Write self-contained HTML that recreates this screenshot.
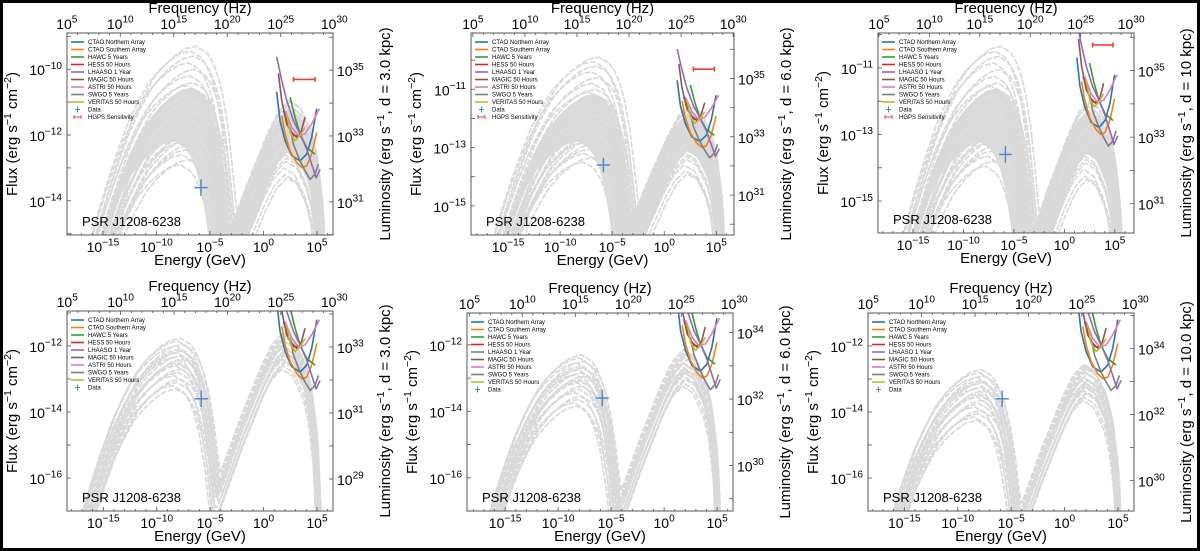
<!DOCTYPE html>
<html><head><meta charset="utf-8"><style>
html,body{margin:0;padding:0;background:#fff;overflow:hidden;width:1200px;height:551px;}
#fig{position:relative;width:1200px;height:551px;background:#fff;overflow:hidden;}
svg{position:absolute;left:0;top:0;display:block;}
text{font-family:"Liberation Sans","DejaVu Sans",sans-serif;fill:#000;}
</style></head><body>
<div id="fig">
<svg id="svg" width="1200" height="551" viewBox="0 0 1200 551" xmlns="http://www.w3.org/2000/svg">
<rect x="1.5" y="1.5" width="1197" height="548" fill="none" stroke="#000" stroke-width="3"/>
</svg>
</div>
<script>
// ---- data ----
const instNames = ["CTAO Northern Array","CTAO Southern Array","HAWC 5 Years","HESS 50 Hours","LHAASO 1 Year","MAGIC 50 Hours","ASTRI 50 Hours","SWGO 5 Years","VERITAS 50 Hours"];
const instColors = ["#1f77b4","#ff7f0e","#2ca02c","#d62728","#9467bd","#8c564b","#e377c2","#7f7f7f","#bcbd22"];
const ctaoNE = [1.24,1.55,2.02,2.64,3.42,4.04,4.51,4.98];
const ctaoNF = [-10.69,-11.56,-12.17,-12.63,-12.79,-12.58,-12.07,-11.2];
const ctaoSE = [1.71,2.02,2.49,3.11,3.58,4.04,4.51,4.98];
const ctaoSF = [-11.41,-11.97,-12.48,-12.84,-12.99,-12.94,-12.58,-11.92];
const hawcE = [2.49,2.95,3.42,4.04,4.82];
const hawcF = [-10.85,-11.46,-11.97,-12.38,-12.58];
const hessE = [1.86,2.49,3.11,3.58];
const hessF = [-11.26,-11.87,-12.07,-11.92];
const lhaasoE = [1.24,1.71,2.17,2.80,3.42,4.04,4.51,4.92,5.29];
const lhaasoF = [-9.62,-10.34,-10.95,-11.56,-11.97,-12.43,-12.89,-13.30,-13.04];
const magicE = [1.40,1.71,2.17,2.80,3.42,3.89];
const magicF = [-10.13,-10.95,-11.66,-12.02,-12.02,-11.46];
const astriE = [2.02,2.64,3.26,3.89,4.51,5.23];
const astriF = [-11.26,-11.77,-12.02,-11.97,-11.66,-11.20];
const swgoE = [2.49,2.80,3.42,3.89,4.36,4.82,5.13];
const swgoF = [-11.77,-12.28,-12.79,-13.09,-13.35,-13.19,-12.89];
const veritasE = [2.17,2.49,2.95,3.42,3.89];
const veritasF = [-11.36,-11.92,-12.17,-12.02,-11.77];
const dataE = -5.84, dataEerr = 0.63, dataF = -13.6, dataFerr = 0.25;
const hgpsE = [2.80,4.82], hgpsF = -10.31;
// model shape tables (relative log flux vs decades from peak)
const syncD = [-11,-10,-9,-8,-7,-6,-5,-4,-3,-2,-1,0,1,1.5,2,2.5,3,3.5,4,5];
const syncR = [-7.6,-6.5,-5.3,-4.2,-3.2,-2.3,-1.6,-1.0,-0.6,-0.3,-0.08,0,-0.2,-0.45,-0.85,-1.5,-2.5,-4.0,-6.0,-10];
const icD = [-12,-9,-8,-7,-6,-5,-4,-3,-2,-1,0,1,2,2.5,3,3.4,4];
const icR = [-9.5,-7,-6.2,-5.3,-4.4,-3.5,-2.6,-1.8,-1.0,-0.35,0,-0.2,-0.9,-1.6,-3.0,-6,-12];
const topSyncF = [-9.3,-9.45,-9.6,-9.8,-10.0,-10.2,-10.4,-10.5,-10.6,-10.65,-10.7,-10.8,-10.85,-10.95,-11.05,-11.1,-11.2,-11.3,-11.4,-11.5,-11.6,-11.7,-11.8,-11.9,-12.0,-12.1,-12.2,-12.3,-12.45,-12.6,-12.75,-12.9];
const topSyncE = [-6.3,-6.8,-6.5,-7.0,-6.4,-6.9,-6.6,-7.2,-6.5,-6.8,-7.0,-6.3,-6.7,-7.1,-6.6,-6.9,-6.4,-7.3,-6.8,-6.5,-7.0,-6.7,-7.4,-6.6,-7.1,-6.8,-7.5,-6.9,-7.2,-7.6,-7.0,-7.8];
const topIcF = [-11.3,-11.0,-11.5,-10.95,-11.2,-11.6,-11.1,-11.4,-11.8,-11.25,-11.5,-12.0,-11.35,-11.7,-12.2,-11.45,-11.9,-12.4,-11.6,-12.1,-12.6,-11.8,-12.3,-12.8,-12.0,-12.5,-13.0,-12.2,-12.7,-13.2,-12.4,-13.3];
const topIcE = [2.3,2.5,2.1,2.4,2.6,2.2,2.3,2.0,2.5,2.4,2.1,2.3,2.6,2.2,2.0,2.4,2.5,2.1,2.3,2.2,2.0,2.4,2.6,2.1,2.3,2.2,1.9,2.5,2.1,2.0,2.4,2.2];
const bandTop = [-10.55,-6.7,-11.2,2.3];
const bandBot = [-12.2,-8.3,-12.5,2.1];
const botSyncF = [-11.76,-11.85,-11.95,-12.0,-12.1,-12.15,-12.2,-12.3,-12.35,-12.4,-12.5,-12.55,-12.6,-12.7,-12.8,-12.9,-13.0,-13.1,-13.2,-13.3];
const botSyncE = [-7.8,-8.0,-7.6,-8.2,-7.9,-7.7,-8.1,-7.8,-8.3,-7.6,-8.0,-7.9,-8.2,-7.7,-8.0,-8.4,-7.8,-8.1,-8.5,-8.2];
const botIcF = [-11.6,-11.7,-11.8,-11.65,-11.9,-12.0,-11.75,-12.1,-11.85,-12.2,-12.0,-12.3,-12.1,-12.4,-12.2,-12.5,-12.3,-12.6,-12.45,-12.7];
const botIcE = [1.8,2.0,1.7,1.9,2.1,1.8,2.0,1.6,1.9,2.0,1.7,1.9,2.1,1.8,1.7,2.0,1.9,1.8,2.0,1.7];
const energyTicks = [-15,-10,-5,0,5];
const freqTicks = [5,10,15,20,25,30];
const logNuPerGeV = 23.38;

const panels = [
 {id:"tl",x0:67,x1:333,y0:33,y1:235,e0:-18.36,e1:6.5,f0:-15.04,f1:-8.9,lo:45.03,fl:[-14,-12,-10],ll:[31,33,35],d:"3.0 kpc",shift:0,row:"top",hgps:true},
 {id:"tm",x0:471,x1:734,y0:33,y1:235,e0:-18.56,e1:6.7,f0:-16,f1:-9.07,lo:45.63,fl:[-15,-13,-11],ll:[31,33,35],d:"6.0 kpc",shift:-0.6,row:"top",hgps:true},
 {id:"tr",x0:878,x1:1134,y0:33,y1:233,e0:-18.47,e1:6.9,f0:-15.96,f1:-9.95,lo:46.08,fl:[-15,-13,-11],ll:[31,33,35],d:"10 kpc",shift:-1.05,row:"top",hgps:true},
 {id:"bl",x0:67,x1:333,y0:311,y1:511,e0:-18.4,e1:6.5,f0:-17,f1:-10.94,lo:45.03,fl:[-16,-14,-12],ll:[29,31,33],d:"3.0 kpc",shift:0,row:"bot",hgps:false},
 {id:"bm",x0:467,x1:733,y0:313,y1:511,e0:-18.6,e1:6.5,f0:-17,f1:-11.04,lo:45.63,fl:[-16,-14,-12],ll:[30,32,34],d:"6.0 kpc",shift:-0.54,row:"bot",hgps:false},
 {id:"br",x0:868,x1:1134,y0:313,y1:511,e0:-18.4,e1:6.5,f0:-17,f1:-11,lo:46.08,fl:[-16,-14,-12],ll:[30,32,34],d:"10.0 kpc",shift:-0.95,row:"bot",hgps:false}
];

const NS="http://www.w3.org/2000/svg";
const svg=document.getElementById("svg");
function mk(tag,attrs,parent){const e=document.createElementNS(NS,tag);for(const k in attrs)e.setAttribute(k,attrs[k]);(parent||svg).appendChild(e);return e;}
function interp(xs,ys,x){if(x<=xs[0])return ys[0]+(x-xs[0])*2;if(x>=xs[xs.length-1])return ys[ys.length-1]-(x-xs[xs.length-1])*6;for(let i=1;i<xs.length;i++){if(x<=xs[i]){const t=(x-xs[i-1])/(xs[i]-xs[i-1]);return ys[i-1]+t*(ys[i]-ys[i-1]);}}}
function model(sF,sE,iF,iE,e){const a=sF+interp(syncD,syncR,e-sE);const b=iF+interp(icD,icR,e-iE);return Math.log10(Math.pow(10,a)+Math.pow(10,b));}
function pow10(parent,x,y,exp,anchor,size,name){
  const t=mk("text",{x:x,y:y,"text-anchor":anchor,"font-size":size},parent);
  
  
  const a=mk("tspan",{},t);a.textContent="10";
  const b=mk("tspan",{dy:-size*0.45,"font-size":size*0.72},t);b.textContent=String(exp).replace("-","\u2212");
  return t;
}

panels.forEach(p=>{
  const g=mk("g",{});
  
  
  const X=e=>p.x0+(e-p.e0)/(p.e1-p.e0)*(p.x1-p.x0);
  const Y=f=>p.y1-(f-p.f0)/(p.f1-p.f0)*(p.y1-p.y0);
  const cp=mk("clipPath",{id:"clip-"+p.id},g);
  mk("rect",{x:p.x0,y:p.y0,width:p.x1-p.x0,height:p.y1-p.y0},cp);
  const plot=mk("g",{"clip-path":"url(#clip-"+p.id+")"},g);
  
  
  const curveD=(sF,sE,iF,iE)=>{let s="";for(let e=p.e0;e<=p.e1+0.01;e+=0.12){s+=(s?"L":"M")+X(e).toFixed(1)+","+Y(model(sF+p.shift,sE,iF+p.shift,iE,e)).toFixed(1);}return s;};
  const models=mk("g",{fill:"none",stroke:"#d9d9d9","stroke-width":1.7,"stroke-dasharray":"6 1.5"},plot);
  
  
  if(p.row==="top"){
    let up="",lo=[];
    for(let e=p.e0;e<=p.e1+0.01;e+=0.12){
      up+=(up?"L":"M")+X(e).toFixed(1)+","+Y(model(bandTop[0]+p.shift,bandTop[1],bandTop[2]+p.shift,bandTop[3],e)).toFixed(1);
      lo.push(X(e).toFixed(1)+","+Y(model(bandBot[0]+p.shift,bandBot[1],bandBot[2]+p.shift,bandBot[3],e)).toFixed(1));
    }
    const band=mk("path",{d:up+"L"+lo.reverse().join("L")+"Z",fill:"#dcdcdc",stroke:"none"},models);
    
    
    for(let i=0;i<topSyncF.length;i++){
      const c=mk("path",{d:curveD(topSyncF[i],topSyncE[i],topIcF[i],topIcE[i])},models);
      
      
    }
  } else {
    for(let i=0;i<botSyncF.length;i++){
      const c=mk("path",{d:curveD(botSyncF[i],botSyncE[i],botIcF[i],botIcE[i])},models);
      
      
    }
  }
  const sens=[[ctaoNE,ctaoNF],[ctaoSE,ctaoSF],[hawcE,hawcF],[hessE,hessF],[lhaasoE,lhaasoF],[magicE,magicF],[astriE,astriF],[swgoE,swgoF],[veritasE,veritasF]];
  const order=[3,0,1,2,4,5,6,7,8];
  order.forEach(k=>{
    const [es,fs]=sens[k];
    let d="";es.forEach((e,i)=>{d+=(i?"L":"M")+X(e).toFixed(1)+","+Y(fs[i]).toFixed(1);});
    const c=mk("path",{d:d,fill:"none",stroke:instColors[k],"stroke-width":1.6,"stroke-linejoin":"round"},plot);
    
    
  });
  if(p.hgps){
    const h=mk("g",{stroke:"#ee4035","stroke-width":1.6},plot);
    
    
    mk("line",{x1:X(hgpsE[0]),x2:X(hgpsE[1]),y1:Y(hgpsF),y2:Y(hgpsF)},h);
    mk("line",{x1:X(hgpsE[0]),x2:X(hgpsE[0]),y1:Y(hgpsF)-2.5,y2:Y(hgpsF)+2.5},h);
    mk("line",{x1:X(hgpsE[1]),x2:X(hgpsE[1]),y1:Y(hgpsF)-2.5,y2:Y(hgpsF)+2.5},h);
  }
  const dp=mk("g",{stroke:"#4a86c5","stroke-width":1.4},plot);
  
  
  mk("line",{x1:X(dataE-dataEerr),x2:X(dataE+dataEerr),y1:Y(dataF),y2:Y(dataF)},dp);
  mk("line",{x1:X(dataE),x2:X(dataE),y1:Y(dataF-dataFerr),y2:Y(dataF+dataFerr)},dp);
  const fr=mk("rect",{x:p.x0,y:p.y0,width:p.x1-p.x0,height:p.y1-p.y0,fill:"none",stroke:"#555","stroke-width":1},g);
  
  
  const tk=mk("g",{stroke:"#555","stroke-width":0.8},g);
  
  
  for(let e=Math.ceil(p.e0);e<=p.e1;e++){const L=(e%5===0)?4:2;mk("line",{x1:X(e),x2:X(e),y1:p.y1,y2:p.y1-L},tk);}
  for(let n=5;n<=30;n++){const x=X(n-logNuPerGeV);if(x<p.x0||x>p.x1)continue;const L=(n%5===0)?4:2;mk("line",{x1:x,x2:x,y1:p.y0,y2:p.y0+L},tk);}
  for(let f=Math.ceil(p.f0);f<=p.f1;f++){mk("line",{x1:p.x0,x2:p.x0+4,y1:Y(f),y2:Y(f)},tk);}
  for(let l=Math.ceil(p.f0+p.lo);l<=p.f1+p.lo;l++){const y=Y(l-p.lo);mk("line",{x1:p.x1,x2:p.x1-4,y1:y,y2:y},tk);}
  energyTicks.forEach(e=>pow10(g,X(e),p.y1+17,e,"middle",14,"energy-tick-label"));
  freqTicks.forEach(n=>pow10(g,X(n-logNuPerGeV),p.y0-4,n,"middle",14,"frequency-tick-label"));
  p.fl.forEach(f=>pow10(g,p.x0-5,Y(f)+6,f,"end",14,"flux-tick-label"));
  p.ll.forEach(l=>pow10(g,p.x1+4,Y(l-p.lo)+6,l,"start",14,"luminosity-tick-label"));
  const cx=(p.x0+p.x1)/2;
  let t=mk("text",{x:cx,y:p.y1+30,"text-anchor":"middle","font-size":15},g);t.textContent="Energy (GeV)";
  
  
  t=mk("text",{x:cx,y:p.y0-20,"text-anchor":"middle","font-size":15},g);t.textContent="Frequency (Hz)";
  
  
  const cy=(p.y0+p.y1)/2;
  t=mk("text",{x:0,y:0,"text-anchor":"middle","font-size":15,transform:"translate("+(p.x0-50)+","+cy+") rotate(-90)"},g);
  
  
  t.innerHTML='Flux (erg s<tspan dy="-6" font-size="10.5">\u22121</tspan><tspan dy="6"> cm</tspan><tspan dy="-6" font-size="10.5">\u22122</tspan><tspan dy="6">)</tspan>';
  t=mk("text",{x:0,y:0,"text-anchor":"middle","font-size":15,transform:"translate("+(p.x1+57)+","+cy+") rotate(-90)"},g);
  
  
  t.innerHTML='Luminosity (erg s<tspan dy="-6" font-size="10.5">\u22121</tspan><tspan dy="6">, d = '+p.d+')</tspan>';
  t=mk("text",{x:p.x0+15,y:p.y1-9,"font-size":13},g);t.textContent="PSR J1208-6238";
  
  
  const lg=mk("g",{},g);
  
  
  const lx=p.x0+4, ly=p.y0+9, dy=7.5;
  instNames.forEach((n,i)=>{
    const y=ly+i*dy;
    mk("line",{x1:lx,x2:lx+13,y1:y,y2:y,stroke:instColors[i],"stroke-width":1.6},lg);
    const tt=mk("text",{x:lx+17,y:y+2,"font-size":6},lg);tt.textContent=n;
    
    
  });
  let y=ly+9*dy;
  const dl=mk("g",{stroke:"#4a86c5","stroke-width":1},lg);
  mk("line",{x1:lx+4,x2:lx+9,y1:y,y2:y},dl);mk("line",{x1:lx+6.5,x2:lx+6.5,y1:y-3,y2:y+3},dl);
  let tt=mk("text",{x:lx+17,y:y+2,"font-size":6},lg);tt.textContent="Data";
  
  
  if(p.hgps){
    y+=dy;
    const hl=mk("g",{stroke:"#ee4035","stroke-width":1},lg);
    mk("line",{x1:lx+3,x2:lx+10,y1:y,y2:y},hl);mk("line",{x1:lx+3,x2:lx+3,y1:y-2,y2:y+2},hl);mk("line",{x1:lx+10,x2:lx+10,y1:y-2,y2:y+2},hl);
    tt=mk("text",{x:lx+17,y:y+2,"font-size":6},lg);tt.textContent="HGPS Sensitivity";
    
    
  }
});
</script>
</body></html>
